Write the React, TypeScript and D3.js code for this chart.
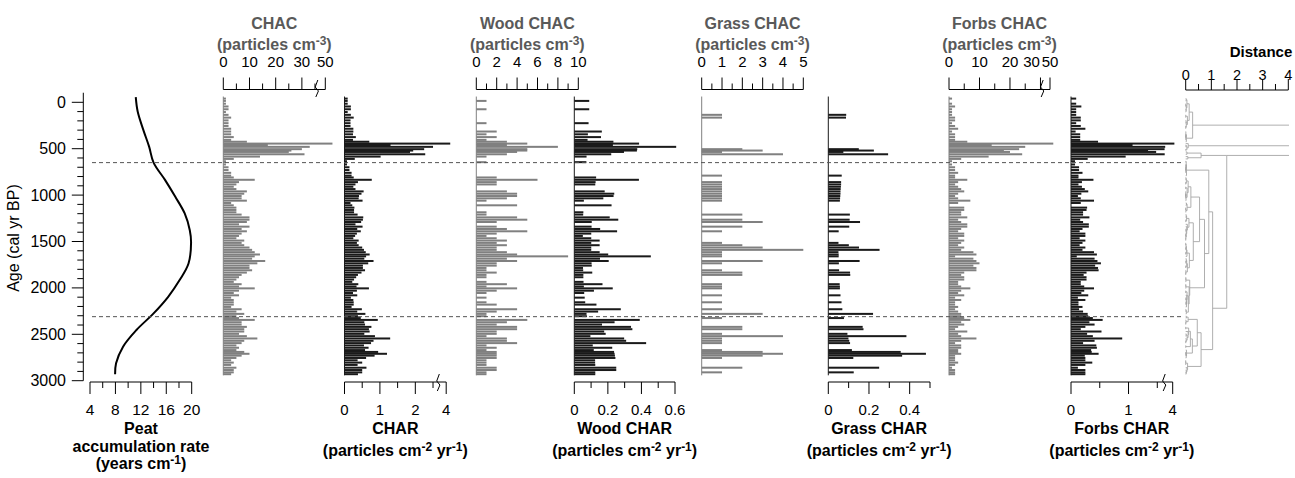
import * as d3 from "d3";

// sample ages (cal yr BP)
const ages = [
  -40, -15, 15, 45, 75, 105, 135, 165, 195, 225, 255, 285, 315, 345, 375, 405,
  425, 445, 460, 480, 505, 520, 535, 560, 585, 610,
  635, 645, 670, 700, 730, 760,
  790, 810, 835, 860, 885, 910, 935, 960, 985, 1010, 1035, 1060, 1085, 1110, 1135, 1160, 1185, 1210, 1240, 1265, 1290, 1315, 1340, 1365, 1390, 1415, 1440, 1465, 1490,
  1515, 1540, 1565, 1590, 1615, 1640, 1660, 1685, 1710, 1735, 1760, 1785, 1810, 1835, 1860, 1885,
  1910, 1935, 1960, 1985, 2005, 2030, 2055, 2080, 2105, 2130, 2155, 2180, 2205, 2230, 2255, 2280,
  2305, 2325, 2345, 2370, 2395, 2420, 2445, 2470, 2495, 2520, 2545, 2570, 2595, 2620, 2645, 2670, 2690, 2710, 2730, 2755, 2780, 2805, 2830, 2860, 2885, 2910, 2930,
];

// concentrations (particles cm-3)
const chac = [
  1, 1, 1, 2, 2, 1, 2, 3, 2, 2, 2, 3, 3, 3, 4, 3,
  9, 63, 17, 33, 30, 26, 25, 31, 14, 4,
  1, 1, 1, 2, 2, 3,
  3, 4, 12, 6, 5, 4, 5, 9, 8, 7, 7, 9, 3, 4, 5, 5, 5, 7, 10, 10, 9, 6, 10, 7, 9, 7, 6, 5, 8,
  7, 8, 10, 11, 12, 14, 12, 11, 16, 13, 10, 10, 11, 9, 7, 6,
  5, 4, 7, 6, 12, 6, 4, 6, 3, 4, 4, 4, 3, 7, 5, 8,
  5, 6, 12, 7, 7, 9, 8, 8, 6, 9, 13, 8, 7, 5, 6, 5, 8, 10, 7, 5, 3, 4, 3, 5, 4, 4, 3,
];
const woodChac = [
  0, 1, 0, 0, 1, 0, 0, 0, 0, 1, 0, 0, 2, 1, 2, 1,
  3, 5, 3, 8, 5, 5, 4, 3, 1, 0,
  0, 1, 0, 0, 0, 0,
  0, 2, 6, 2, 2, 0, 0, 3, 4, 4, 3, 1, 0, 4, 0, 0, 1, 1, 4, 5, 2, 0, 2, 3, 5, 2, 1, 2, 3,
  2, 3, 2, 2, 3, 4, 9, 3, 4, 2, 2, 1, 1, 2, 1, 1,
  0, 1, 3, 1, 4, 2, 1, 0, 1, 0, 1, 2, 0, 4, 2, 1,
  1, 0, 5, 3, 2, 4, 4, 2, 2, 1, 3, 3, 4, 1, 2, 1, 2, 2, 2, 2, 1, 1, 1, 2, 2, 1, 1,
];
const grassChac = [
  0, 0, 0, 0, 0, 0, 1, 1, 0, 0, 0, 0, 0, 0, 0, 0,
  0, 0, 0, 0, 2, 3, 1, 4, 0, 0,
  0, 0, 0, 0, 0, 0,
  1, 0, 0, 1, 1, 1, 1, 1, 1, 1, 1, 1, 0, 0, 0, 0, 0, 2, 0, 2, 3, 0, 2, 0, 1, 0, 0, 0, 0,
  1, 2, 3, 5, 1, 1, 1, 0, 3, 1, 0, 0, 1, 2, 2, 0,
  0, 0, 1, 1, 1, 0, 0, 1, 0, 0, 1, 0, 0, 1, 0, 3,
  0, 1, 0, 0, 0, 2, 2, 0, 1, 4, 1, 1, 1, 0, 0, 1, 3, 4, 3, 1, 0, 0, 0, 2, 0, 1, 0,
];
const forbsChac = [
  1, 0, 1, 2, 1, 1, 1, 2, 2, 1, 2, 3, 1, 2, 2, 2,
  6, 58, 14, 25, 23, 18, 20, 24, 13, 4,
  1, 0, 1, 2, 2, 3,
  2, 2, 6, 3, 2, 3, 4, 5, 3, 2, 3, 7, 3, 0, 5, 5, 4, 4, 6, 3, 4, 6, 6, 4, 3, 5, 5, 3, 5,
  4, 3, 5, 4, 8, 9, 2, 8, 9, 10, 8, 9, 9, 5, 4, 5,
  5, 3, 3, 4, 7, 4, 3, 5, 2, 4, 2, 2, 3, 2, 3, 4,
  4, 5, 7, 4, 5, 3, 2, 6, 3, 4, 9, 4, 2, 4, 4, 3, 3, 4, 2, 2, 2, 3, 2, 1, 2, 2, 2,
];

// accumulation rates (particles cm-2 yr-1)
const charTotal = [
  0.09, 0.09, 0.09, 0.18, 0.18, 0.09, 0.18, 0.26, 0.17, 0.17, 0.17, 0.25, 0.25, 0.24, 0.32, 0.24,
  0.7, 4.86, 1.3, 2.5, 2.25, 1.94, 1.85, 2.28, 1.02, 0.29,
  0.07, 0.07, 0.07, 0.14, 0.14, 0.2,
  0.2, 0.26, 0.77, 0.38, 0.31, 0.25, 0.31, 0.54, 0.48, 0.41, 0.4, 0.51, 0.17, 0.22, 0.28, 0.27, 0.27, 0.37, 0.53, 0.52, 0.47, 0.31, 0.51, 0.36, 0.46, 0.35, 0.3, 0.25, 0.4,
  0.35, 0.4, 0.5, 0.55, 0.6, 0.71, 0.61, 0.56, 0.82, 0.67, 0.52, 0.52, 0.58, 0.48, 0.38, 0.33,
  0.27, 0.22, 0.39, 0.34, 0.69, 0.35, 0.24, 0.36, 0.18, 0.25, 0.26, 0.26, 0.2, 0.49, 0.36, 0.59,
  0.38, 0.46, 0.94, 0.56, 0.58, 0.76, 0.69, 0.71, 0.56, 0.86, 1.29, 0.82, 0.75, 0.55, 0.68, 0.58, 0.95, 1.2, 0.85, 0.61, 0.37, 0.5, 0.37, 0.62, 0.5, 0.5, 0.38,
];
const woodChar = [
  0, 0.089, 0, 0, 0.089, 0, 0, 0, 0, 0.085, 0, 0, 0.164, 0.081, 0.159, 0.079,
  0.233, 0.386, 0.23, 0.607, 0.375, 0.373, 0.296, 0.22, 0.073, 0,
  0, 0.072, 0, 0, 0, 0,
  0, 0.13, 0.385, 0.127, 0.125, 0, 0, 0.181, 0.238, 0.234, 0.173, 0.057, 0, 0.222, 0, 0, 0.054, 0.053, 0.211, 0.262, 0.104, 0, 0.103, 0.154, 0.255, 0.101, 0.051, 0.101, 0.151,
  0.101, 0.151, 0.101, 0.101, 0.151, 0.202, 0.456, 0.153, 0.205, 0.103, 0.104, 0.052, 0.053, 0.107, 0.054, 0.054,
  0, 0.055, 0.168, 0.057, 0.229, 0.117, 0.059, 0, 0.062, 0, 0.065, 0.132, 0, 0.277, 0.142, 0.073,
  0.075, 0, 0.39, 0.24, 0.165, 0.338, 0.346, 0.178, 0.187, 0.096, 0.297, 0.309, 0.428, 0.11, 0.226, 0.116, 0.237, 0.24, 0.242, 0.245, 0.124, 0.124, 0.125, 0.25, 0.25, 0.125, 0.125,
];
const grassChar = [
  0, 0, 0, 0, 0, 0, 0.088, 0.087, 0, 0, 0, 0, 0, 0, 0, 0,
  0, 0, 0, 0, 0.15, 0.224, 0.074, 0.294, 0, 0,
  0, 0, 0, 0, 0, 0,
  0.066, 0, 0, 0.063, 0.063, 0.062, 0.061, 0.06, 0.06, 0.059, 0.058, 0.057, 0, 0, 0, 0, 0, 0.106, 0, 0.105, 0.156, 0, 0.103, 0, 0.051, 0, 0, 0, 0,
  0.05, 0.101, 0.151, 0.252, 0.05, 0.051, 0.051, 0, 0.154, 0.052, 0, 0, 0.053, 0.107, 0.108, 0,
  0, 0, 0.056, 0.057, 0.057, 0, 0, 0.06, 0, 0, 0.065, 0, 0, 0.069, 0, 0.22,
  0, 0.077, 0, 0, 0, 0.169, 0.173, 0, 0.094, 0.384, 0.099, 0.103, 0.107, 0, 0, 0.116, 0.356, 0.48, 0.363, 0.123, 0, 0, 0, 0.25, 0, 0.125, 0,
];
const forbsChar = [
  0.09, 0, 0.09, 0.18, 0.09, 0.09, 0.09, 0.17, 0.17, 0.09, 0.17, 0.25, 0.08, 0.16, 0.16, 0.16,
  0.47, 4.47, 1.07, 1.9, 1.73, 1.34, 1.48, 1.76, 0.95, 0.29,
  0.07, 0, 0.07, 0.14, 0.14, 0.2,
  0.13, 0.13, 0.39, 0.19, 0.13, 0.19, 0.24, 0.3, 0.18, 0.12, 0.17, 0.4, 0.17, 0, 0.28, 0.27, 0.21, 0.21, 0.32, 0.16, 0.21, 0.31, 0.31, 0.2, 0.15, 0.25, 0.25, 0.15, 0.25,
  0.2, 0.15, 0.25, 0.2, 0.4, 0.45, 0.1, 0.41, 0.46, 0.52, 0.42, 0.47, 0.48, 0.27, 0.22, 0.27,
  0.27, 0.17, 0.17, 0.23, 0.4, 0.23, 0.18, 0.3, 0.12, 0.25, 0.13, 0.13, 0.2, 0.14, 0.21, 0.29,
  0.3, 0.38, 0.55, 0.32, 0.41, 0.25, 0.17, 0.53, 0.28, 0.38, 0.89, 0.41, 0.21, 0.44, 0.45, 0.35, 0.36, 0.48, 0.24, 0.25, 0.25, 0.37, 0.25, 0.12, 0.25, 0.25, 0.25,
];

// peat accumulation rate curve (years cm-1)
const peatAge = [-55, 100, 300, 478, 650, 836, 1016, 1198, 1378, 1511, 1737, 1916, 2096, 2275, 2454, 2633, 2813, 2931];
const peatRate = [11.2, 11.5, 12.4, 13.3, 14.0, 15.8, 17.4, 18.9, 19.7, 19.9, 19.5, 18.1, 16.3, 14.0, 11.3, 9.2, 8.1, 7.95];

// zone boundaries
const dividerAges = [650, 2310];

// dendrogram: zones (first sample age), internal height, and merge table
// [left, right, height, anchor] ; negative = zone, positive = earlier merge row;
// anchor = where the node sits between its first (0) and second (1) child
const zoneStart = [-40, 445, 535, 635, 2305];
const zoneHeight = [0.27, 0.1, 0.6, 0.9, 0.6];
const zoneMerge = [
  [-4, -5, 1.05, 0.7],
  [-3, 1, 1.6, 0],
  [-2, 2, 4.5, 0.5],
  [-1, 3, 4.8, 0.5],
];

// axis ticks
const ageLabels = [0, 500, 1000, 1500, 2000, 2500, 3000];
const peatTicks = [4, 6, 8, 10, 12, 14, 16, 18, 20];
const peatLabels = [4, 8, 12, 16, 20];
const chacTicks = [0, 5, 10, 15, 20, 25, 30, 35, 50];
const chacLabels = [0, 10, 20, 30, 50];
const charTicks = [0, 0.5, 1, 1.5, 2, 2.5, 4];
const charLabels = [0, 1, 2, 4];
const woodChacTicks = [0, 1, 2, 3, 4, 5, 6, 7, 8, 9, 10];
const woodChacLabels = [0, 2, 4, 6, 8, 10];
const woodCharTicks = [0, 0.1, 0.2, 0.3, 0.4, 0.5, 0.6];
const woodCharLabels = [0, 0.2, 0.4, 0.6];
const grassChacTicks = [0, 0.5, 1, 1.5, 2, 2.5, 3, 3.5, 4, 4.5, 5];
const grassChacLabels = [0, 1, 2, 3, 4, 5];
const grassCharTicks = [0, 0.1, 0.2, 0.3, 0.4, 0.5];
const grassCharLabels = [0, 0.2, 0.4];
const forbsChacTicks = [0, 5, 10, 15, 20, 25, 30, 50];
const forbsChacLabels = [0, 10, 20, 30, 50];
const forbsCharTicks = [0, 0.5, 1, 1.5, 4];
const forbsCharLabels = [0, 1, 4];
const distTicks = [0, 0.5, 1, 1.5, 2, 2.5, 3, 3.5, 4];
const distLabels = [0, 1, 2, 3, 4];

const FONT = "'Liberation Sans', Arial, Helvetica, sans-serif";
const GREY = "#808080";
const DARK = "#1a1a1a";
const TOP_Y = 89.5;
const BOT_Y = 382;
const TITLE_SIZE = 16;

const y = d3.scaleLinear().domain([0, 3000]).range([102.3, 380.7]);

type Panel = {
  values: number[];
  x0: number;
  domain: number[];
  range: number[];
  color: string;
  top: boolean;
  ticks: number[];
  labels: number[];
  breakAt?: number;
  title: string;
  nudge?: Record<number, number>;
};

const panels: Panel[] = [
  { values: chac, x0: 223.3, domain: [0, 36, 50], range: [0, 94.3, 102], color: GREY, top: true, ticks: chacTicks, labels: chacLabels, breakAt: 35.7, title: "CHAC" },
  { values: charTotal, x0: 344.5, domain: [0, 2.7, 4], range: [0, 95.6, 101.7], color: DARK, top: false, ticks: charTicks, labels: charLabels, breakAt: 2.65, title: "CHAR" },
  { values: woodChac, x0: 476.3, domain: [0, 10], range: [0, 102], color: GREY, top: true, ticks: woodChacTicks, labels: woodChacLabels, title: "Wood CHAC" },
  { values: woodChar, x0: 574.3, domain: [0, 0.6], range: [0, 100.7], color: DARK, top: false, ticks: woodCharTicks, labels: woodCharLabels, title: "Wood CHAR" },
  { values: grassChac, x0: 701.7, domain: [0, 5], range: [0, 101.6], color: GREY, top: true, ticks: grassChacTicks, labels: grassChacLabels, title: "Grass CHAC" },
  { values: grassChar, x0: 828.3, domain: [0, 0.5], range: [0, 101.7], color: DARK, top: false, ticks: grassCharTicks, labels: grassCharLabels, title: "Grass CHAR" },
  { values: forbsChac, x0: 949, domain: [0, 30.5, 50], range: [0, 93, 101], color: GREY, top: true, ticks: forbsChacTicks, labels: forbsChacLabels, breakAt: 30.9, title: "Forbs CHAC", nudge: { 30: -9 } },
  { values: forbsChar, x0: 1071, domain: [0, 1.62, 4], range: [0, 93.2, 101.7], color: DARK, top: false, ticks: forbsCharTicks, labels: forbsCharLabels, breakAt: 1.62, title: "Forbs CHAR" },
];

function Unit({ top }: { top: boolean }) {
  if (top)
    return (
      <>
        (particles cm<tspan dy={-5} fontSize={12}>-3</tspan>
        <tspan dy={5}>)</tspan>
      </>
    );
  return (
    <>
      (particles cm<tspan dy={-5} fontSize={12}>-2</tspan>
      <tspan dy={5}> yr</tspan>
      <tspan dy={-5} fontSize={12}>-1</tspan>
      <tspan dy={5}>)</tspan>
    </>
  );
}

function breakPath(bx: number, top: boolean) {
  const b = top ? 97 : 391;
  return `M${bx - 1},${b} L${bx + 1.6},${b - 6} L${bx - 1.6},${b - 10} L${bx + 1},${b - 17}`;
}

function PanelView({ p }: { p: Panel }) {
  const sx = d3.scaleLinear().domain(p.domain).range(p.range.map((r) => p.x0 + r));
  const ay = p.top ? TOP_Y : BOT_Y;
  const dir = p.top ? -1 : 1;
  const xEnd = sx(p.ticks[p.ticks.length - 1]);
  const cx = (p.x0 + xEnd) / 2;
  const titleColor = p.top ? "#595959" : "#000";
  return (
    <g>
      {p.values.map((v, i) =>
        v > 0 ? <rect key={i} x={p.x0} y={y(ages[i]) - 1} width={sx(v) - p.x0} height={2} fill={p.color} /> : null
      )}
      <line x1={p.x0} x2={p.x0} y1={y(-62)} y2={y(2942)} stroke={p.color} strokeWidth={1} />
      <line x1={p.x0} x2={xEnd} y1={ay} y2={ay} stroke="#000" strokeWidth={1} />
      {p.ticks.map((t) => (
        <line key={t} x1={sx(t)} x2={sx(t)} y1={ay} y2={ay + dir * (p.labels.includes(t) ? 12 : 6)} stroke="#000" strokeWidth={1} />
      ))}
      {p.breakAt !== undefined && <path d={breakPath(sx(p.breakAt), p.top)} fill="none" stroke="#000" strokeWidth={1} />}
      {p.labels.map((l) => (
        <text key={l} x={sx(l) + (p.nudge?.[l] ?? 0)} y={p.top ? 67 : 414.5} textAnchor="middle" fontSize={15}>
          {String(l)}
        </text>
      ))}
      <text x={cx} y={p.top ? 28.5 : 434} textAnchor="middle" fontSize={TITLE_SIZE} fontWeight="bold" fill={titleColor}>
        {p.title}
      </text>
      <text x={cx} y={p.top ? 50 : 456} textAnchor="middle" fontSize={TITLE_SIZE} fontWeight="bold" fill={titleColor}>
        <Unit top={p.top} />
      </text>
    </g>
  );
}

// ---- dendrogram (CONISS inside each zone) ----
type DNode = { pos: number; h: number; n: number; sum: number[]; ss: number; kids: DNode[] };

const feats = (() => {
  const cols = [woodChac, grassChac, forbsChac].map((c) => c.map((v) => Math.sqrt(v)));
  const sds = cols.map((c) => d3.deviation(c) || 1);
  return ages.map((_, i) => cols.map((c, j) => c[i] / sds[j]));
})();

function coniss(idx: number[]): DNode {
  const list: DNode[] = idx.map((i) => ({ pos: y(ages[i]), h: 0, n: 1, sum: feats[i].slice(), ss: 0, kids: [] }));
  while (list.length > 1) {
    let bk = 0;
    let bd = Infinity;
    for (let k = 0; k < list.length - 1; k++) {
      const a = list[k];
      const b = list[k + 1];
      let d = 0;
      for (let j = 0; j < a.sum.length; j++) {
        const diff = a.sum[j] / a.n - b.sum[j] / b.n;
        d += diff * diff;
      }
      d *= (a.n * b.n) / (a.n + b.n);
      if (d < bd) {
        bd = d;
        bk = k;
      }
    }
    const a = list[bk];
    const b = list[bk + 1];
    const ss = a.ss + b.ss + bd;
    list.splice(bk, 2, { pos: (a.pos + b.pos) / 2, h: ss, n: a.n + b.n, sum: a.sum.map((s, j) => s + b.sum[j]), ss, kids: [a, b] });
  }
  return list[0];
}

function rescale(n: DNode, f: number) {
  n.h *= f;
  n.kids.forEach((k) => rescale(k, f));
}

function buildTree(): DNode {
  const zones = zoneStart.map((s, k) => {
    const e = k + 1 < zoneStart.length ? zoneStart[k + 1] : Infinity;
    const idx = ages.map((_, i) => i).filter((i) => ages[i] >= s && ages[i] < e);
    const r = coniss(idx);
    if (r.h > 0) rescale(r, zoneHeight[k] / r.h);
    return r;
  });
  const merged: DNode[] = [];
  zoneMerge.forEach(([a, b, h, anchor]) => {
    const A = a < 0 ? zones[-a - 1] : merged[a - 1];
    const B = b < 0 ? zones[-b - 1] : merged[b - 1];
    merged.push({ pos: A.pos + (B.pos - A.pos) * anchor, h, n: A.n + B.n, sum: [], ss: 0, kids: [A, B] });
  });
  return merged[merged.length - 1];
}

const dx = d3.scaleLinear().domain([0, 4]).range([1185.7, 1288.3]);

function Dendrogram() {
  const root = buildTree();
  const segs: [number, number, number, number][] = [];
  const walk = (n: DNode) => {
    if (n.kids.length < 2) return;
    const [a, b] = n.kids;
    segs.push([dx(n.h), a.pos, dx(n.h), b.pos]);
    n.kids.forEach((k) => {
      segs.push([dx(k.h), k.pos, dx(n.h), k.pos]);
      walk(k);
    });
  };
  walk(root);
  return (
    <g>
      <defs>
        <clipPath id="dclip">
          <rect x={1180} y={92} width={dx(4) + 0.6 - 1180} height={300} />
        </clipPath>
      </defs>
      <g clipPath="url(#dclip)" stroke="#a6a6a6" strokeWidth={0.9}>
        {segs.map((s, i) => (
          <line key={i} x1={s[0]} y1={s[1]} x2={s[2]} y2={s[3]} />
        ))}
      </g>
      <line x1={dx(0)} x2={dx(4)} y1={90} y2={90} stroke="#000" />
      {distTicks.map((t) => (
        <line key={t} x1={dx(t)} x2={dx(t)} y1={90} y2={90 - (distLabels.includes(t) ? 11 : 6)} stroke="#000" />
      ))}
      {distLabels.map((l) => (
        <text key={l} x={dx(l)} y={80} textAnchor="middle" fontSize={14.5}>
          {String(l)}
        </text>
      ))}
      <text x={1261} y={57} textAnchor="middle" fontSize={15} fontWeight="bold">
        Distance
      </text>
    </g>
  );
}

function AgeAxis() {
  const ax = 83.3;
  const minor = d3.range(0, 3001, 100);
  return (
    <g>
      <line x1={ax} x2={ax} y1={y(-103)} y2={y(3000)} stroke="#000" />
      {minor.map((t) => (
        <line key={t} x1={ax} x2={ax - (t % 500 === 0 ? 11.5 : 6)} y1={y(t)} y2={y(t)} stroke="#000" />
      ))}
      {ageLabels.map((t) => (
        <text key={t} x={66} y={y(t) + 5.5} textAnchor="end" fontSize={16}>
          {String(t)}
        </text>
      ))}
      <text transform="translate(19,238) rotate(-90)" textAnchor="middle" fontSize={16}>
        Age (cal yr BP)
      </text>
    </g>
  );
}

function PeatPanel() {
  const px = d3.scaleLinear().domain([4, 20]).range([90, 191.7]);
  const line = d3
    .line<number>()
    .x((_, i) => px(peatRate[i]))
    .y((a) => y(a))
    .curve(d3.curveCatmullRom);
  return (
    <g>
      <path d={line(peatAge) || ""} fill="none" stroke="#000" strokeWidth={2} />
      <line x1={px(4)} x2={px(20)} y1={BOT_Y} y2={BOT_Y} stroke="#000" />
      {peatTicks.map((t) => (
        <line key={t} x1={px(t)} x2={px(t)} y1={BOT_Y} y2={BOT_Y + (peatLabels.includes(t) ? 12 : 6)} stroke="#000" />
      ))}
      {peatLabels.map((t) => (
        <text key={t} x={px(t)} y={414.5} textAnchor="middle" fontSize={15.5}>
          {String(t)}
        </text>
      ))}
      <g fontSize={TITLE_SIZE} fontWeight="bold" textAnchor="middle">
        <text x={141} y={434}>Peat</text>
        <text x={141} y={452}>accumulation rate</text>
        <text x={141} y={468.5}>
          (years cm<tspan dy={-5} fontSize={12}>-1</tspan>
          <tspan dy={5}>)</tspan>
        </text>
      </g>
    </g>
  );
}

export default function App() {
  return (
    <svg
      width={1295}
      height={478}
      style={{ position: "absolute", left: 0, top: 0, background: "#fff" }}
      fontFamily={FONT}
    >
      <AgeAxis />
      <PeatPanel />
      {panels.map((p) => (
        <PanelView key={p.title} p={p} />
      ))}
      <Dendrogram />
      {dividerAges.map((a) => (
        <line key={a} x1={92} x2={1182} y1={y(a)} y2={y(a)} stroke="#555" strokeWidth={1} strokeDasharray="4 3" />
      ))}
    </svg>
  );
}
